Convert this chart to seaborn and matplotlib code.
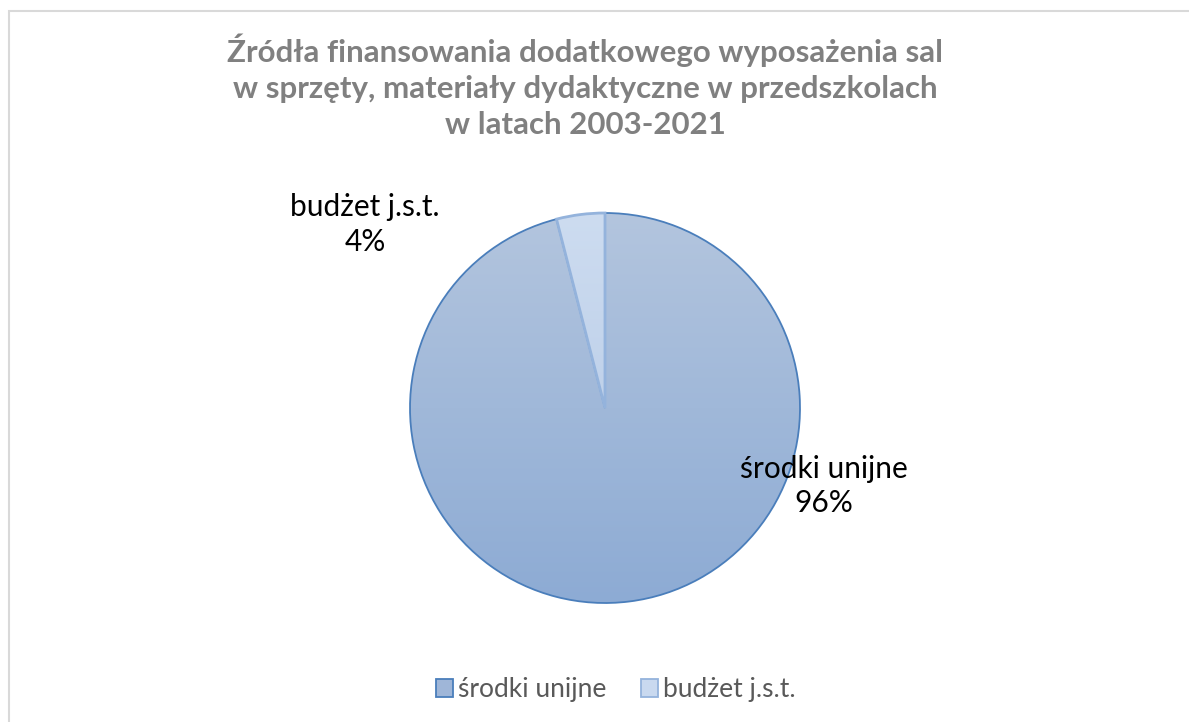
import numpy as np
import matplotlib
matplotlib.use("Agg")
import matplotlib.pyplot as plt
import seaborn as sns
from matplotlib.patches import Rectangle, Patch
from matplotlib.colors import LinearSegmentedColormap

categories = ["środki unijne", "budżet j.s.t."]
values = [96, 4]
pct_labels = ["96%", "4%"]
title = ("Źródła finansowania dodatkowego wyposażenia sal\n"
         "w sprzęty, materiały dydaktyczne w przedszkolach\n"
         "w latach 2003-2021")

sns.set_theme(style="white")
plt.rcParams['font.family'] = ['Lato', 'DejaVu Sans']

W, H = 1189, 722
fig = plt.figure(figsize=(W / 100, H / 100), dpi=100)
fig.patch.set_facecolor("white")

# border
fig.add_artist(Rectangle((8.5 / W, -0.05), 1.2, 1 - 10.5 / H + 0.05,
                         transform=fig.transFigure, fill=False,
                         edgecolor="#d9d9d9", linewidth=1.5))

R = 195
cx, cy = 605, H - 408
ax = fig.add_axes([(cx - R) / W, (cy - R) / H, 2 * R / W, 2 * R / H])
ax.axis("off")

big_col = "#9fb6d8"
small_col = "#c9d9ef"
wedges, _ = ax.pie(values, startangle=90, counterclock=False, radius=1,
                   colors=[big_col, small_col],
                   wedgeprops=dict(linewidth=1.3))
wedges[0].set_edgecolor("#4a7ebb")
wedges[1].set_edgecolor("#94b3dc")
wedges[1].set_linewidth(2.0)
wedges[1].set_zorder(3)

# gradient fill in big wedge
cmap = LinearSegmentedColormap.from_list("g", ["#8dabd4", "#b3c5de"])
grad = np.linspace(0, 1, 256).reshape(-1, 1)
im = ax.imshow(grad, extent=[-1, 1, -1, 1], origin="lower", cmap=cmap,
               aspect="auto", zorder=1.5)
im.set_clip_path(wedges[0])
wedges[0].set_facecolor("none")
wedges[0].set_zorder(2)

cmap2 = LinearSegmentedColormap.from_list("g2", ["#bfd1ea", "#cddcf0"])
grad2 = np.linspace(0, 1, 256).reshape(-1, 1)
im2 = ax.imshow(grad2, extent=[-1, 1, 0, 1], origin="lower", cmap=cmap2,
                aspect="auto", zorder=2.5)
im2.set_clip_path(wedges[1])
wedges[1].set_facecolor("none")

ax.set_xlim(-1, 1)
ax.set_ylim(-1, 1)
ax.set_aspect("equal")

# data labels
ax.text(-1.23, 0.94, f"{categories[1]}\n{pct_labels[1]}", ha="center", va="center",
        fontsize=21.5, color="#000000", linespacing=1.3)
ax.text(1.12, -0.40, f"{categories[0]}\n{pct_labels[0]}", ha="center", va="center",
        fontsize=21.5, color="#000000", linespacing=1.3)

fig.text(585 / W, 1 - 86 / H, title, ha="center", va="center", fontsize=22.5,
         fontweight="bold", color="#808080", linespacing=1.34)

handles = [Patch(facecolor="#9fb6d8", edgecolor="#4a7ebb", linewidth=1.3),
           Patch(facecolor="#c9d9ef", edgecolor="#94b3dc", linewidth=1.3)]
fig.legend(handles, categories, loc="center", bbox_to_anchor=(616 / W, 1 - 690 / H),
           ncol=2, frameon=False, fontsize=19, labelcolor="#595959",
           handlelength=0.65, handleheight=0.65, handletextpad=0.2, columnspacing=1.3)

fig.savefig("out.png", dpi=100)
